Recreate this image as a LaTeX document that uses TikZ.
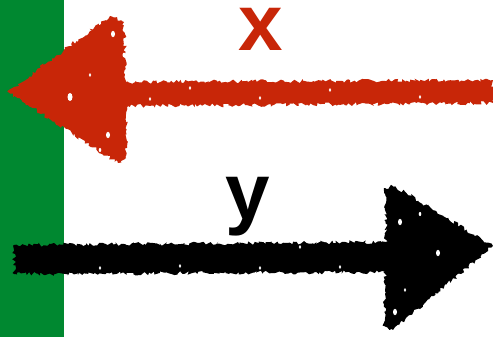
\documentclass[tikz,border=0pt]{standalone}
\usepackage{fontspec}
\setmainfont{Liberation Sans}
\usetikzlibrary{decorations.pathmorphing}
\definecolor{barg}{RGB}{0,136,48}
\definecolor{arred}{RGB}{200,38,8}
\begin{document}
\begin{tikzpicture}[x=1pt,y=-1pt,
  sketch/.style={decorate,decoration={random steps,segment length=2.2pt,amplitude=2pt}},
  speck/.style={fill=white},
  lbl/.style={font=\fontsize{80}{80}\selectfont\bfseries,inner sep=0pt,anchor=base}]
\useasboundingbox (0,0) rectangle (493,337);
\fill[white] (0,0) rectangle (493,337);
\fill[barg] (0,0) rectangle (64,337);
% red arrow (left)
\fill[arred,sketch] (493,80) -- (126,82) -- (124,22) -- (110,16) -- (8,92) -- (118,163) -- (126,158) -- (128,106) -- (493,103) -- cycle;
\foreach \p/\r in {(113,34)/2, (70,97)/2.5, (124,55)/1.5, (108,135)/2, (90,75)/1.2, (150,99)/1.2, (190,88)/1.2, (260,98)/1.2, (330,90)/1.2, (420,97)/1.2, (100,150)/1.3}
  \fill[speck] \p ellipse [x radius=\r, y radius=1.6*\r];
% black arrow (right)
\fill[black,sketch] (14,245) -- (386,242) -- (385,188) -- (395,186) -- (493,246) -- (393,330) -- (384,326) -- (385,272) -- (14,274) -- cycle;
\foreach \p/\r in {(400,222)/2, (438,253)/2, (395,312)/2, (420,214)/1.3, (405,290)/1.2, (100,268)/1.2, (180,266)/1.2, (260,268)/1.2, (340,267)/1.2, (300,247)/1.2}
  \fill[speck] \p ellipse [x radius=\r, y radius=1.6*\r];
\node[lbl,text=arred] (x) at (261,51) {x};
\node[lbl,text=black] (y) at (248,219) {y};
\end{tikzpicture}
\end{document}
